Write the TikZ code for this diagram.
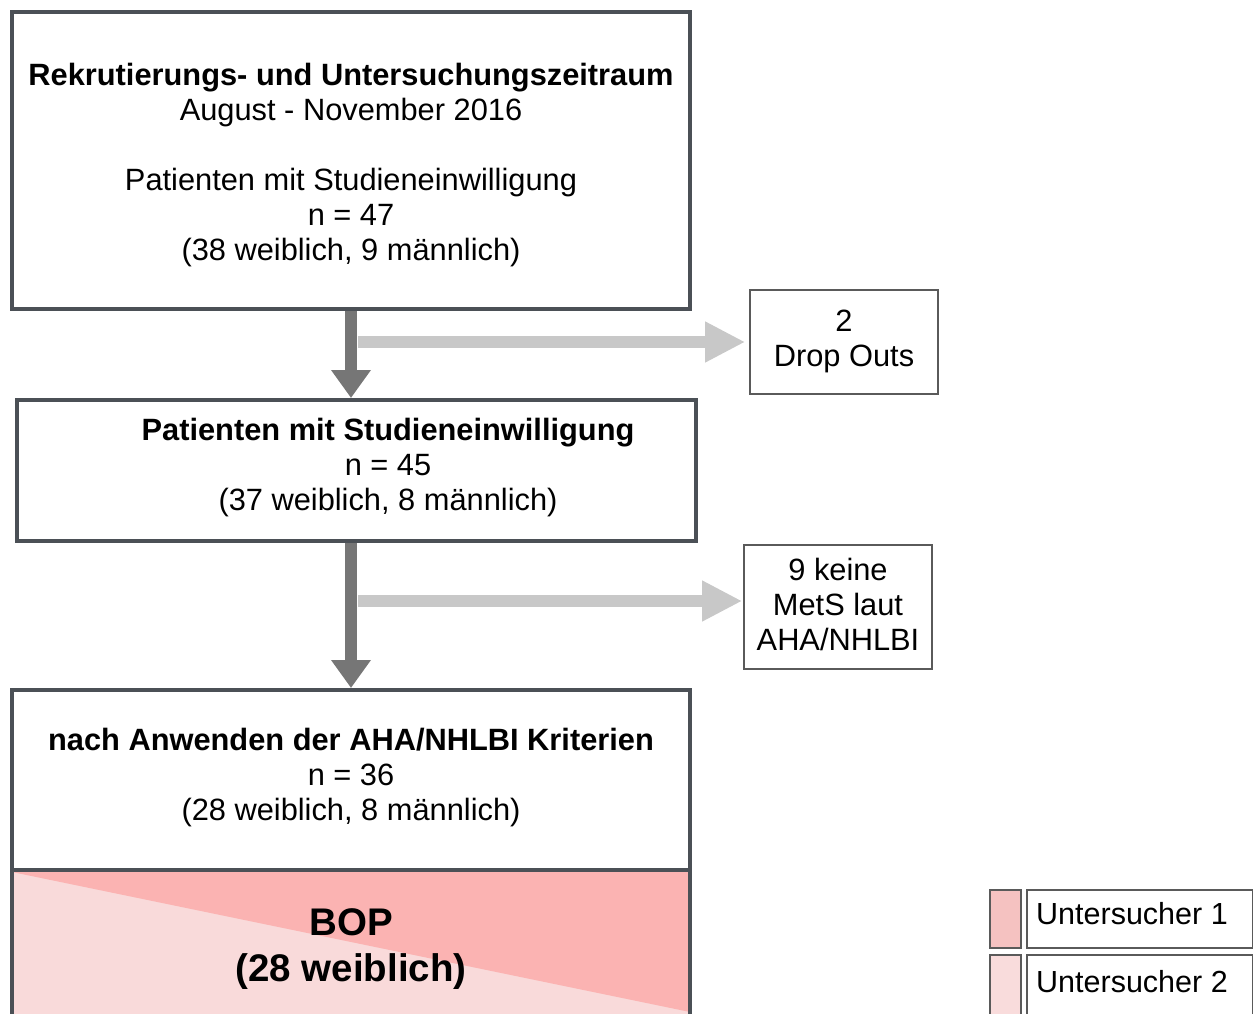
\documentclass[tikz,border=0pt]{standalone}
\usepackage{fontspec}
\setmainfont{Liberation Sans}
\usetikzlibrary{arrows.meta}
\definecolor{bord}{HTML}{4B5056}
\definecolor{thinb}{HTML}{5A5A5A}
\definecolor{darkarr}{HTML}{767676}
\definecolor{lightarr}{HTML}{C8C8C8}
\definecolor{pinkA}{HTML}{FBB3B2}
\definecolor{pinkB}{HTML}{F9DADA}
\definecolor{swA}{HTML}{F5C2C1}
\definecolor{swB}{HTML}{F9DCDC}
\tikzset{
  bigbox/.style={draw=bord, line width=4pt, inner sep=0pt},
  smallbox/.style={draw=thinb, line width=1.6pt, inner sep=0pt},
  txt/.style={align=center, font=\fontsize{30.8}{35}\selectfont, inner sep=0pt},
  downarr/.style={draw=darkarr, line width=12pt, -{Triangle[length=28pt,width=38pt]}},
  sidearr/.style={draw=lightarr, line width=12pt, -{Triangle[length=40pt,width=38pt]}},
}
\begin{document}
\begin{tikzpicture}[x=1pt,y=-1pt]
\useasboundingbox (0,0) rectangle (1253,1014);
\begin{scope}
\clip (0,0) rectangle (1253,1014);
% box 1
\node[bigbox, minimum width=678pt, minimum height=297pt] (b1) at (351,160.5) {};
\node[txt] (t1) at (351,165) {\textbf{Rekrutierungs- und Untersuchungszeitraum}\\August - November 2016\\[35pt]Patienten mit Studieneinwilligung\\n = 47\\(38 weiblich, 9 männlich)};
% box 2
\node[bigbox, minimum width=679pt, minimum height=141pt] (b2) at (356.5,470.5) {};
\node[txt] (t2) at (388,468) {\textbf{Patienten mit Studieneinwilligung}\\n = 45\\(37 weiblich, 8 männlich)};
% box 3 (pink part)
\fill[pinkB] (12,872) rectangle (690,1030);
\fill[pinkA] (12,872) -- (690,872) -- (690,1012) -- cycle;
\node[bigbox, minimum width=678pt, minimum height=180pt] (b3) at (351,780) {};
\draw[bord, line width=4pt] (12,870) -- (12,1030) (690,870) -- (690,1030);
\node[txt] (t3) at (351,778) {\textbf{nach Anwenden der AHA/NHLBI Kriterien}\\n = 36\\(28 weiblich, 8 männlich)};
\node[align=center, inner sep=0pt, font=\fontsize{38.5}{46}\selectfont\bfseries] (t4) at (351,949) {BOP\\(28 weiblich)};
% side boxes
\node[smallbox, minimum width=188pt, minimum height=104pt] (d1) at (844,342) {};
\node[txt] (t5) at (844,341) {2\\Drop Outs};
\node[smallbox, minimum width=188pt, minimum height=124pt] (d2) at (838,607) {};
\node[txt] (t6) at (838,604) {9 keine\\MetS laut\\AHA/NHLBI};
% arrows
\draw[downarr] (b1.south) -- (b1.south |- b2.north);
\draw[sidearr] ([xshift=7pt]b1.south |- d1.west) -- ([xshift=-4pt]d1.west);
\draw[downarr] (b1.south |- b2.south) -- (b1.south |- b3.north);
\draw[sidearr] ([xshift=7pt,yshift=6pt]b1.south |- d2.west) -- ([xshift=-1pt,yshift=6pt]d2.west);
% legend
\node[smallbox, fill=swA, minimum width=31pt, minimum height=58pt] (s1) at (1005.5,919) {};
\node[smallbox, minimum width=226pt, minimum height=58pt] (l1) at (1140,919) {};
\node[font=\fontsize{30.5}{35}\selectfont, anchor=west, inner sep=0pt] (lt1) at (1036,914) {Untersucher 1};
\node[smallbox, fill=swB, minimum width=31pt, minimum height=70pt] (s2) at (1005.5,990) {};
\node[smallbox, minimum width=226pt, minimum height=70pt] (l2) at (1140,990) {};
\node[font=\fontsize{30.5}{35}\selectfont, anchor=west, inner sep=0pt] (lt2) at (1036,982) {Untersucher 2};
\end{scope}
\end{tikzpicture}
\end{document}
